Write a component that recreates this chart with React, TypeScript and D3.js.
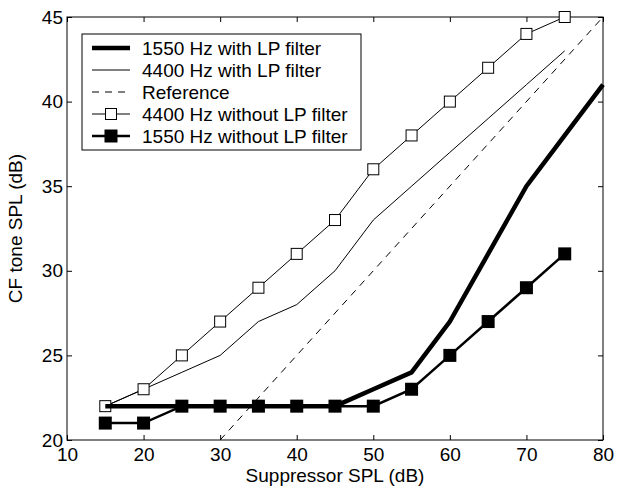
import React, { useRef, useEffect } from 'react';
import * as d3 from 'd3';

const xValues = [15, 20, 25, 30, 35, 40, 45, 50, 55, 60, 65, 70, 75];
const lp1550X = [15, 20, 25, 30, 35, 40, 45, 50, 55, 60, 65, 70, 75, 80];
const lp1550 = [22, 22, 22, 22, 22, 22, 22, 23, 24, 27, 31, 35, 38, 41];
const lp4400 = [22, 23, 24, 25, 27, 28, 30, 33, 35, 37, 39, 41, 43];
const noLp4400 = [22, 23, 25, 27, 29, 31, 33, 36, 38, 40, 42, 44, 45];
const noLp1550 = [21, 21, 22, 22, 22, 22, 22, 22, 23, 25, 27, 29, 31];
const referenceX = [30, 80];
const referenceY = [20, 45];
const xTicks = [10, 20, 30, 40, 50, 60, 70, 80];
const yTicks = [20, 25, 30, 35, 40, 45];
const legendLabels = [
  '1550 Hz with LP filter',
  '4400 Hz with LP filter',
  'Reference',
  '4400 Hz without LP filter',
  '1550 Hz without LP filter',
];

const W = 626;
const H = 496;
const margin = { left: 67, right: 23, top: 17, bottom: 56 };

export default function App() {
  const svgRef = useRef<SVGSVGElement>(null);

  useEffect(() => {
    const svg = d3.select(svgRef.current);
    svg.selectAll('*').remove();
    const width = W - margin.left - margin.right;
    const height = H - margin.top - margin.bottom;
    const g = svg.append('g').attr('transform', `translate(${margin.left},${margin.top})`);
    const font = 'Arial, "Liberation Sans", sans-serif';
    const fs = 19;

    const x = d3.scaleLinear().domain([10, 80]).range([0, width]);
    const y = d3.scaleLinear().domain([20, 45]).range([height, 0]);

    // axes with inward ticks on all four sides
    const styleAxis = (sel: any, showText: boolean) => {
      sel.select('.domain').remove();
      sel.selectAll('line').attr('stroke', '#000').attr('stroke-width', 1);
      sel.selectAll('text')
        .attr('font-family', font)
        .attr('font-size', fs)
        .attr('fill', '#000')
        .attr('opacity', showText ? 1 : 0);
    };
    const xb = g.append('g').attr('transform', `translate(0,${height})`)
      .call(d3.axisBottom(x).tickValues(xTicks).tickSize(-5).tickPadding(4));
    styleAxis(xb, true);
    xb.selectAll('text').attr('dy', '0.9em');
    const xt = g.append('g').call(d3.axisTop(x).tickValues(xTicks).tickSize(-5));
    styleAxis(xt, false);
    const yl = g.append('g').call(d3.axisLeft(y).tickValues(yTicks).tickSize(-5).tickPadding(4));
    styleAxis(yl, true);
    const yr = g.append('g').attr('transform', `translate(${width},0)`)
      .call(d3.axisRight(y).tickValues(yTicks).tickSize(-5));
    styleAxis(yr, false);

    g.append('rect').attr('width', width).attr('height', height)
      .attr('fill', 'none').attr('stroke', '#000').attr('stroke-width', 1);

    const line = d3.line<[number, number]>().x((d) => x(d[0])).y((d) => y(d[1]));
    const zip = (xs: number[], ys: number[]) => xs.map((v, i) => [v, ys[i]] as [number, number]);

    g.append('path').attr('d', line(zip(referenceX, referenceY)))
      .attr('fill', 'none').attr('stroke', '#000').attr('stroke-width', 1)
      .attr('stroke-dasharray', '7,6');

    g.append('path').attr('d', line(zip(xValues, lp4400)))
      .attr('fill', 'none').attr('stroke', '#000').attr('stroke-width', 1);

    g.append('path').attr('d', line(zip(xValues, noLp4400)))
      .attr('fill', 'none').attr('stroke', '#000').attr('stroke-width', 1);
    g.selectAll('.openSq').data(zip(xValues, noLp4400)).enter().append('rect')
      .attr('x', (d) => x(d[0]) - 5.5).attr('y', (d) => y(d[1]) - 5.5)
      .attr('width', 11).attr('height', 11)
      .attr('fill', '#fff').attr('stroke', '#000').attr('stroke-width', 1);

    g.append('path').attr('d', line(zip(lp1550X, lp1550)))
      .attr('fill', 'none').attr('stroke', '#000').attr('stroke-width', 4.5);

    g.append('path').attr('d', line(zip(xValues, noLp1550)))
      .attr('fill', 'none').attr('stroke', '#000').attr('stroke-width', 2.5);
    g.selectAll('.fillSq').data(zip(xValues, noLp1550)).enter().append('rect')
      .attr('x', (d) => x(d[0]) - 6.5).attr('y', (d) => y(d[1]) - 6.5)
      .attr('width', 13).attr('height', 13)
      .attr('fill', '#000');

    // legend
    const leg = svg.append('g').attr('transform', 'translate(82,34)');
    leg.append('rect').attr('width', 279).attr('height', 116)
      .attr('fill', '#fff').attr('stroke', '#000').attr('stroke-width', 1);
    const styles = [
      { w: 4.5, dash: null, marker: null },
      { w: 1, dash: null, marker: null },
      { w: 1, dash: '7,6', marker: null },
      { w: 1, dash: null, marker: 'open' },
      { w: 2.5, dash: null, marker: 'filled' },
    ];
    legendLabels.forEach((label, i) => {
      const yy = 14 + i * 22;
      const s = styles[i];
      const ln = leg.append('line').attr('x1', 10).attr('x2', 48).attr('y1', yy).attr('y2', yy)
        .attr('stroke', '#000').attr('stroke-width', s.w);
      if (s.dash) ln.attr('stroke-dasharray', s.dash);
      if (s.marker === 'open') {
        leg.append('rect').attr('x', 29 - 5.5).attr('y', yy - 5.5).attr('width', 11).attr('height', 11)
          .attr('fill', '#fff').attr('stroke', '#000');
      } else if (s.marker === 'filled') {
        leg.append('rect').attr('x', 29 - 6.5).attr('y', yy - 6.5).attr('width', 13).attr('height', 13)
          .attr('fill', '#000');
      }
      leg.append('text').attr('x', 60).attr('y', yy).attr('dy', '0.35em')
        .attr('font-family', font).attr('font-size', fs).text(label);
    });

    svg.append('text').attr('x', margin.left + width / 2).attr('y', 482)
      .attr('text-anchor', 'middle').attr('font-family', font).attr('font-size', fs)
      .text('Suppressor SPL (dB)');
    svg.append('text')
      .attr('transform', `translate(22,${margin.top + height / 2}) rotate(-90)`)
      .attr('text-anchor', 'middle').attr('font-family', font).attr('font-size', fs)
      .text('CF tone SPL (dB)');
  }, []);

  return (
    <svg ref={svgRef} width={W} height={H}
      style={{ position: 'absolute', left: 0, top: 0, background: '#fff' }} />
  );
}
